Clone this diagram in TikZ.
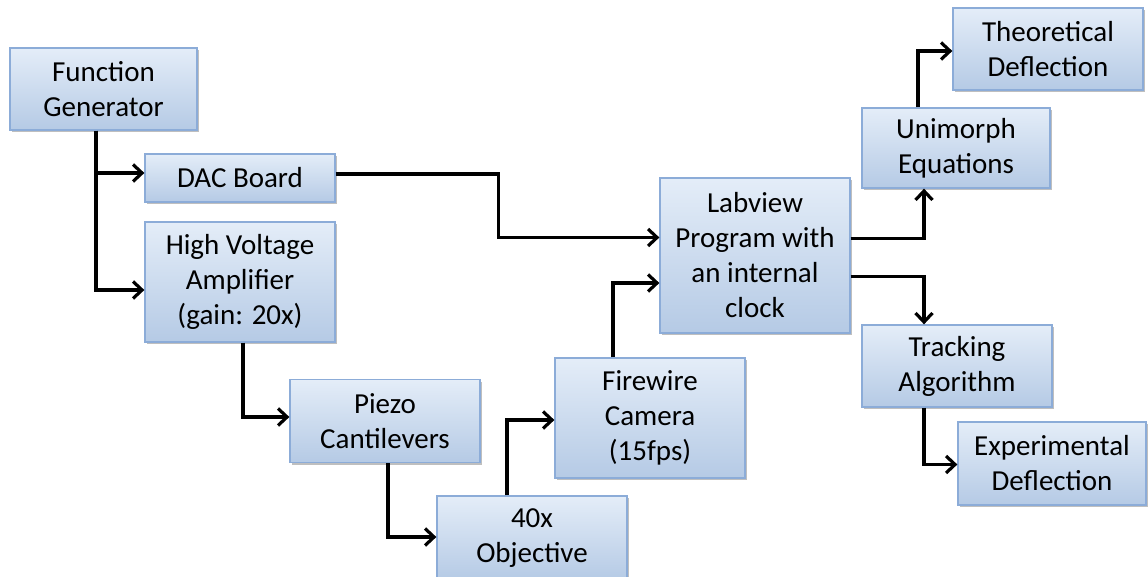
\documentclass[tikz,border=0pt]{standalone}
\usepackage{fontspec}
\setmainfont{Carlito}
\usetikzlibrary{arrows.meta,shadows}
\definecolor{boxtop}{HTML}{E4EDF8}
\definecolor{boxbot}{HTML}{B5CAE5}
\definecolor{boxline}{HTML}{8CACD8}
\tikzset{
  blk/.style={draw=boxline, line width=1.3pt, top color=boxtop, bottom color=boxbot,
    align=center, inner sep=0pt, font=\fontsize{29}{35}\selectfont, text=black,
    drop shadow={shadow xshift=2pt, shadow yshift=-2pt, opacity=0.25, fill=black}},
  arr/.style={line width=3.2pt, -{Straight Barb[length=9pt,width=17pt,line width=3.2pt]}}
}
\begin{document}
\begin{tikzpicture}[x=1pt,y=-1pt]
\useasboundingbox (0,0) rectangle (1148,577);
\fill[white] (0,0) rectangle (1148,577);
\node[blk, minimum width=187pt, minimum height=82pt] (fg) at (103.5,89) {Function\\Generator};
\node[blk, minimum width=190pt, minimum height=48pt] (dac) at (240,178) {DAC Board};
\node[blk, minimum width=190pt, minimum height=120pt] (hva) at (240,282) {High Voltage\\Amplifier\\(gain: 20x)};
\node[blk, minimum width=190pt, minimum height=83pt] (pz) at (385,421) {Piezo\\Cantilevers};
\node[blk, minimum width=190pt, minimum height=84pt] (obj) at (532,538) {40x\\Objective};
\node[blk, minimum width=190pt, minimum height=120pt] (fw) at (650,418) {Firewire\\Camera\\(15fps)};
\node[blk, minimum width=190pt, minimum height=155pt] (lab) at (755,255.5) {Labview\\Program with\\an internal\\clock};
\node[blk, minimum width=188pt, minimum height=80pt] (uni) at (956,148) {Unimorph\\Equations};
\node[blk, minimum width=190pt, minimum height=82pt] (th) at (1048,49) {Theoretical\\Deflection};
\node[blk, minimum width=190pt, minimum height=82pt] (trk) at (957,366) {Tracking\\Algorithm};
\node[blk, minimum width=188pt, minimum height=83pt] (exd) at (1052,463.5) {Experimental\\Deflection};

\draw[arr] ([xshift=-7.5pt]fg.south) |- ([yshift=5pt]dac.west);
\draw[arr] ([xshift=-7.5pt]fg.south) |- ([yshift=-8pt]hva.west);
\draw[arr] ([yshift=4pt]dac.east) -- ++(163,0) |- ([yshift=18pt]lab.west);
\draw[arr] ([yshift=17pt]lab.east) -| ([xshift=-32pt]uni.south);
\draw[arr] ([yshift=-21pt]lab.east) -| ([xshift=-33pt]trk.north);
\draw[arr] ([xshift=-38pt]uni.north) |- ([yshift=-2pt]th.west);
\draw[arr] ([xshift=3pt]hva.south) |- ([yshift=4pt]pz.west);
\draw[arr] ([xshift=3pt]pz.south) |- ([yshift=1pt]obj.west);
\draw[arr] ([xshift=-25pt]obj.north) |- ([yshift=-2pt]fw.west);
\draw[arr] ([xshift=-37pt]fw.north) |- ([yshift=-27.5pt]lab.west);
\draw[arr] ([xshift=-33pt]trk.south) |- ([yshift=-1pt]exd.west);
\end{tikzpicture}
\end{document}
